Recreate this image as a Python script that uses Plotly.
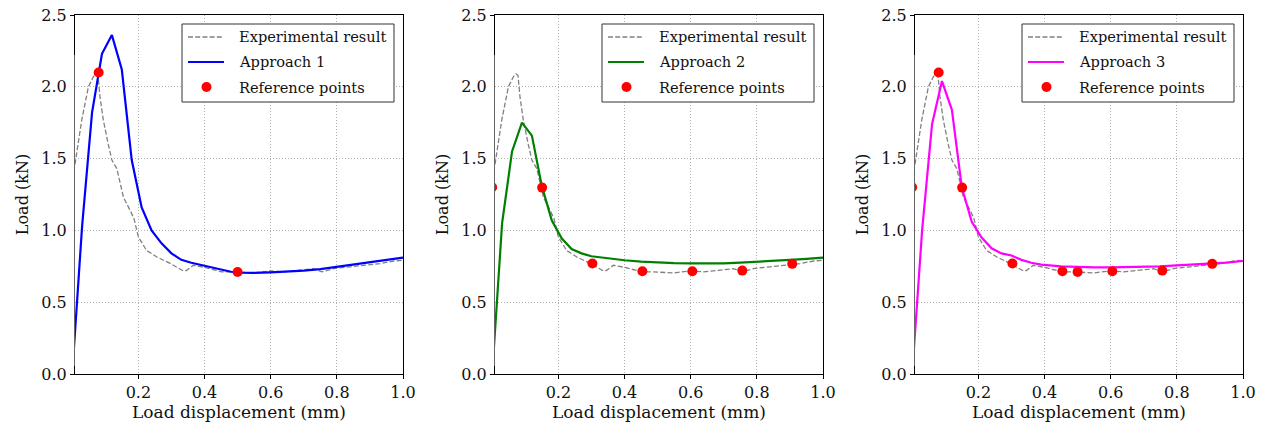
import plotly.graph_objects as go

# ---------------- data ----------------
exp_x = [0.0085, 0.029, 0.049, 0.064, 0.072, 0.078, 0.084, 0.094, 0.109, 0.12, 0.135,
         0.155, 0.175, 0.187, 0.2, 0.225, 0.256, 0.296, 0.336, 0.345, 0.366, 0.397,
         0.452, 0.487, 0.548, 0.599, 0.639, 0.69, 0.73, 0.755, 0.79, 0.84, 0.89,
         0.931, 0.972, 1.0]
exp_y = [1.46, 1.77, 2.0, 2.07, 2.09, 2.08, 1.93, 1.77, 1.6, 1.49, 1.43,
         1.23, 1.14, 1.08, 0.955, 0.86, 0.815, 0.77, 0.718, 0.72, 0.757, 0.744,
         0.712, 0.711, 0.704, 0.718, 0.711, 0.722, 0.734, 0.711, 0.734, 0.746, 0.757,
         0.769, 0.787, 0.792]

a1_x = [0.0, 0.03, 0.06, 0.09, 0.12, 0.15, 0.18, 0.21, 0.24, 0.27, 0.30, 0.33, 0.36,
        0.39, 0.42, 0.45, 0.48, 0.51, 0.55, 0.60, 0.65, 0.70, 0.75, 0.80, 0.85, 0.90,
        0.95, 1.0]
a1_y = [0.0, 1.03, 1.82, 2.23, 2.36, 2.12, 1.49, 1.16, 1.0, 0.91, 0.84, 0.795, 0.775,
        0.76, 0.745, 0.728, 0.712, 0.706, 0.704, 0.708, 0.713, 0.72, 0.73, 0.745, 0.76,
        0.775, 0.79, 0.81]

a2_x = [0.0, 0.03, 0.06, 0.09, 0.12, 0.15, 0.18, 0.21, 0.24, 0.27, 0.30, 0.35, 0.40,
        0.45, 0.50, 0.55, 0.60, 0.65, 0.70, 0.75, 0.80, 0.85, 0.90, 0.95, 1.0]
a2_y = [0.0, 1.05, 1.55, 1.75, 1.66, 1.31, 1.07, 0.945, 0.87, 0.84, 0.82, 0.805, 0.792,
        0.782, 0.775, 0.772, 0.77, 0.768, 0.77, 0.775, 0.78, 0.787, 0.795, 0.802, 0.81]

a3_x = [0.0, 0.03, 0.06, 0.09, 0.12, 0.15, 0.18, 0.21, 0.24, 0.27, 0.30, 0.33, 0.36,
        0.39, 0.45, 0.50, 0.55, 0.60, 0.65, 0.70, 0.75, 0.80, 0.85, 0.90, 0.95, 1.0]
a3_y = [0.0, 1.0, 1.74, 2.04, 1.84, 1.3, 1.06, 0.95, 0.875, 0.84, 0.825, 0.795, 0.775,
        0.762, 0.75, 0.745, 0.742, 0.742, 0.743, 0.746, 0.75, 0.756, 0.762, 0.768,
        0.776, 0.787]

ref1_x = [0.08, 0.5]
ref1_y = [2.1, 0.71]
ref2_x = [0.0, 0.151, 0.303, 0.454, 0.605, 0.756, 0.907]
ref2_y = [1.3, 1.298, 0.769, 0.715, 0.715, 0.72, 0.767]
ref3_x = [0.0, 0.08, 0.151, 0.303, 0.454, 0.5, 0.605, 0.756, 0.907]
ref3_y = [1.3, 2.1, 1.298, 0.769, 0.715, 0.711, 0.715, 0.72, 0.767]

approach_names = ["Approach 1", "Approach 2", "Approach 3"]
approach_colors = ["#0000ff", "#008000", "#ff00ff"]
approach_x = [a1_x, a2_x, a3_x]
approach_y = [a1_y, a2_y, a3_y]
refs_x = [ref1_x, ref2_x, ref3_x]
refs_y = [ref1_y, ref2_y, ref3_y]
legend_labels = ["Experimental result", None, "Reference points"]

x_tick_vals = [0.2, 0.4, 0.6, 0.8, 1.0]
y_tick_vals = [0.0, 0.5, 1.0, 1.5, 2.0, 2.5]
x_range = [0.0085, 1.0]
y_range = [0.0, 2.5]

# ---------------- layout geometry ----------------
W, H = 1268, 429
FONT = "DejaVu Serif"
TXT = "#111111"
EXP_COLOR = "#808080"
REF_COLOR = "#ff0000"
EXP_DASH = "5px,2.2px"
panel_left = [75, 495, 915]
panel_w = 328
plot_top, plot_bottom = 15, 374


def px(x):
    return x / W


def py(y):
    return 1 - y / H


fig = go.Figure()
shapes = []
annotations = []

for i in range(3):
    sfx = "" if i == 0 else str(i + 1)
    xa, ya = "x" + sfx, "y" + sfx
    fig.add_trace(go.Scatter(x=exp_x, y=exp_y, mode="lines", name="Experimental result",
                             line=dict(color=EXP_COLOR, width=1.3, dash=EXP_DASH),
                             xaxis=xa, yaxis=ya, showlegend=False))
    fig.add_trace(go.Scatter(x=approach_x[i], y=approach_y[i], mode="lines",
                             name=approach_names[i],
                             line=dict(color=approach_colors[i], width=2.2),
                             xaxis=xa, yaxis=ya, showlegend=False))
    fig.add_trace(go.Scatter(x=refs_x[i], y=refs_y[i], mode="markers", name="Reference points",
                             marker=dict(color=REF_COLOR, size=10, line=dict(width=0)),
                             xaxis=xa, yaxis=ya, showlegend=False, cliponaxis=True))

    L = panel_left[i]
    # mask anything drawn left of the axis (markers sitting on the clipped edge)
    shapes.append(dict(type="rect", xref="paper", yref="paper", layer="above",
                       x0=px(L - 9), x1=px(L - 0.6), y0=py(plot_top + 40), y1=py(plot_bottom - 8),
                       fillcolor="white", line=dict(width=0)))
    # legend box
    shapes.append(dict(type="rect", xref="paper", yref="paper", layer="above",
                       x0=px(L + 107), x1=px(L + 319), y0=py(102), y1=py(24),
                       fillcolor="white", line=dict(color="#333333", width=1)))
    rows = [37, 62, 87]
    shapes.append(dict(type="line", xref="paper", yref="paper", layer="above",
                       x0=px(L + 113), x1=px(L + 149), y0=py(rows[0]), y1=py(rows[0]),
                       line=dict(color=EXP_COLOR, width=1.3, dash=EXP_DASH)))
    shapes.append(dict(type="line", xref="paper", yref="paper", layer="above",
                       x0=px(L + 113), x1=px(L + 149), y0=py(rows[1]), y1=py(rows[1]),
                       line=dict(color=approach_colors[i], width=2.2)))
    shapes.append(dict(type="circle", xref="paper", yref="paper", layer="above",
                       x0=px(L + 131.5 - 5), x1=px(L + 131.5 + 5),
                       y0=py(rows[2] + 5), y1=py(rows[2] - 5),
                       fillcolor=REF_COLOR, line=dict(width=0)))
    texts = [legend_labels[0], approach_names[i], legend_labels[2]]
    for r, t in zip(rows, texts):
        annotations.append(dict(text=t, xref="paper", yref="paper", x=px(L + 162), y=py(r),
                                xanchor="left", yanchor="middle", showarrow=False,
                                font=dict(family=FONT, size=14.6, color=TXT)))

axis_common = dict(showline=True, mirror=True, linecolor="black", linewidth=1.2,
                   ticks="outside", ticklen=4, tickwidth=1, tickcolor="black",
                   showgrid=True, gridcolor="#b0b0b0", griddash="1px,2px", gridwidth=1,
                   zeroline=False, tickfont=dict(family=FONT, size=16, color=TXT),
                   tickformat=".1f", automargin=False)

layout = dict(width=W, height=H, paper_bgcolor="white", plot_bgcolor="white",
              margin=dict(l=0, r=0, t=0, b=0, autoexpand=False),
              font=dict(family=FONT, color=TXT), showlegend=False,
              shapes=shapes, annotations=annotations)

for i in range(3):
    sfx = "" if i == 0 else str(i + 1)
    x0 = panel_left[i] / W
    x1 = (panel_left[i] + panel_w) / W
    y0 = (H - plot_bottom) / H
    y1 = (H - plot_top) / H
    layout["xaxis" + sfx] = dict(axis_common, domain=[x0, x1], range=x_range,
                                 tickvals=x_tick_vals, anchor="y" + sfx,
                                 title=dict(text="Load displacement (mm)", standoff=4,
                                            font=dict(family=FONT, size=17, color=TXT)))
    layout["yaxis" + sfx] = dict(axis_common, domain=[y0, y1], range=y_range,
                                 tickvals=y_tick_vals, anchor="x" + sfx,
                                 title=dict(text="Load (kN)", standoff=8,
                                            font=dict(family=FONT, size=16, color=TXT)))

fig.update_layout(**layout)
fig.write_html("out.html", config={"displayModeBar": False},
               post_script="document.body.style.margin='0';document.body.style.padding='0';")
